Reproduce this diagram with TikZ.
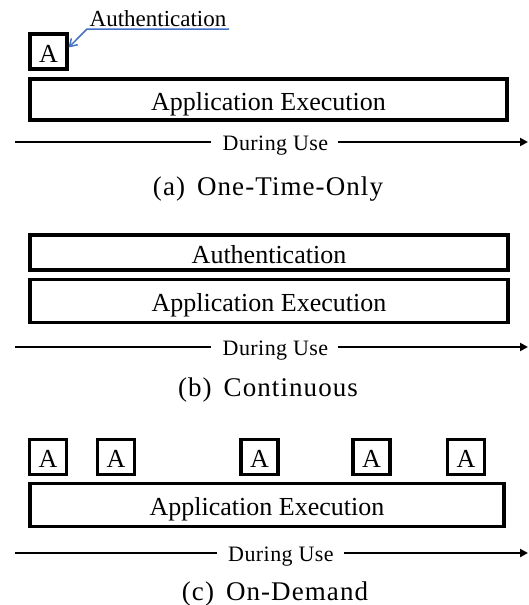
\documentclass[tikz,border=0pt]{standalone}
\usepackage{fontspec}
\setmainfont{Liberation Serif}
\usetikzlibrary{arrows.meta}
\definecolor{callout}{RGB}{68,114,196}
\tikzset{
  x=1pt, y=-1pt,
  boxtext/.style={text height=21pt, text depth=0pt, font=\fontsize{26}{26}\selectfont},
  box/.style={draw, line width=3.2pt, minimum height=41pt, inner sep=0pt, boxtext},
  abox/.style={draw, line width=3.2pt, minimum width=37pt, minimum height=35pt, inner sep=0pt, boxtext},
  timeline/.style={line width=2pt},
  timetip/.style={-{Triangle[length=8pt,width=8pt]}},
  uselabel/.style={anchor=base, inner sep=0pt, font=\fontsize{22}{22}\selectfont\addfontfeature{LetterSpace=2}},
  caption/.style={anchor=base, inner sep=0pt, font=\fontsize{27}{27}\selectfont\addfontfeature{LetterSpace=4}},
}
\begin{document}
\begin{tikzpicture}
\useasboundingbox (0,0) rectangle (528,605);

% (a) one-time-only authentication
\node[abox] (aA) at (48.5,51.5) {A};
\node[box, minimum width=477pt] (aApp) at (268.5,99.5) {Application Execution};
\node[anchor=base, inner sep=0pt, font=\fontsize{23}{23}\selectfont] (aLbl) at (158,26) {Authentication};
\coordinate (aLblL) at (87,29);
\coordinate (aLblR) at (229,29);
\draw[callout, line width=1.5pt, -{Straight Barb[length=7pt,width=9pt]}]
  (aLblR) -- (aLblL) -- ([yshift=4pt]aA.east);
\node[uselabel] (aUse) at (275.5,150) {During Use};
\coordinate (aStart) at (15,142);
\coordinate (aEnd) at (528,142);
\draw[timeline] (aStart) -- (aStart -| 211,0);
\draw[timeline, timetip] (aEnd -| 338,0) -- (aEnd);
\node[caption] (aCap) at (268,195) {(a)\hspace{12pt}One-Time-Only};

% (b) continuous authentication
\node[box, minimum width=478pt, minimum height=35pt] (bAuth) at (269,252.5) {Authentication};
\node[box, minimum width=478pt, minimum height=43pt] (bApp) at (269,301) {Application Execution};
\node[uselabel] (bUse) at (275.5,355) {During Use};
\coordinate (bStart) at (15,347);
\coordinate (bEnd) at (528,347);
\draw[timeline] (bStart) -- (bStart -| 211,0);
\draw[timeline, timetip] (bEnd -| 338,0) -- (bEnd);
\node[caption] (bCap) at (268,396) {(b)\hspace{12pt}Continuous};

% (c) on-demand authentication
\node[abox] (cA1) at (48,457) {A};
\node[abox] (cA2) at (116,457) {A};
\node[abox] (cA3) at (259.5,457) {A};
\node[abox] (cA4) at (371.5,457) {A};
\node[abox] (cA5) at (466,457) {A};
\node[box, minimum width=474pt, minimum height=43pt] (cApp) at (267,505) {Application Execution};
\node[uselabel] (cUse) at (281,561) {During Use};
\coordinate (cStart) at (15,553);
\coordinate (cEnd) at (528,553);
\draw[timeline] (cStart) -- (cStart -| 217,0);
\draw[timeline, timetip] (cEnd -| 344,0) -- (cEnd);
\node[caption] (cCap) at (275,600) {(c)\hspace{12pt}On-Demand};
\end{tikzpicture}
\end{document}
